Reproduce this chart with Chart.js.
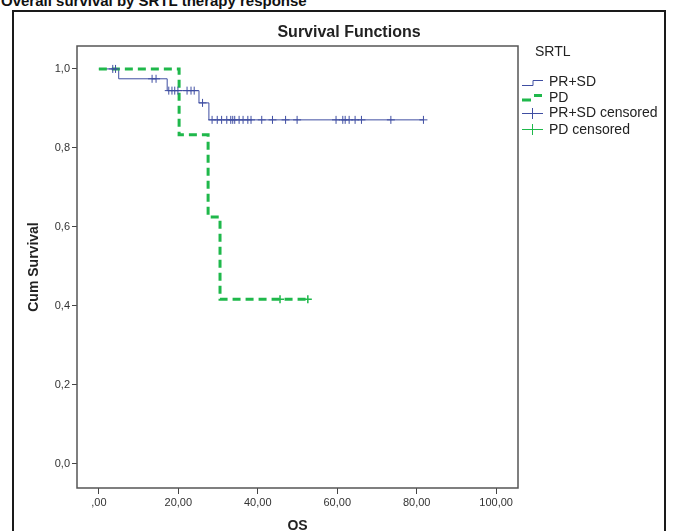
<!DOCTYPE html>
<html>
<head>
<meta charset="utf-8">
<script src="https://cdn.jsdelivr.net/npm/chart.js@4.4.1/dist/chart.umd.min.js"></script>
<style>
  html, body { margin: 0; padding: 0; width: 673px; height: 531px; overflow: hidden; background: #fff; }
  #heading { position: absolute; left: 1px; top: -8px; font: bold 15px "Liberation Sans Narrow", sans-serif; color: #111; white-space: nowrap; }
  #frame { position: absolute; left: 12px; top: 10px; width: 650px; height: 600px; border: 2px solid #1a1a1a; }
  #wrap { position: absolute; left: 0; top: 0; }
</style>
</head>
<body>
<div id="heading">Overall survival by SRTL therapy response</div>
<div id="frame"></div>
<div id="wrap"><canvas id="km" width="673" height="545"></canvas></div>
<script>
// survival steps
const prsdTimes = [0, 5.0, 17.2, 25.2, 27.7, 81.7];
const prsdSurv = [1.0, 0.975, 0.945, 0.914, 0.871, 0.871];
const pdTimes = [0, 20.2, 27.5, 30.5, 52.6];
const pdSurv = [1.0, 0.833, 0.625, 0.417, 0.417];
// censored cases (time only, y comes from the curve)
const prsdCensored = [3.5, 4.2, 13.4, 14.4, 17.6, 18.4, 19.1, 19.9, 22.2, 23.2, 24.0, 26.1,
  28.5, 29.8, 30.9, 32.2, 33.2, 33.7, 34.2, 35.3, 36.3, 37.5, 38.3, 41.0, 43.7, 47.0, 49.9,
  59.7, 61.4, 62.0, 63.0, 64.5, 66.1, 73.5, 81.7];
const pdCensored = [45.6, 52.6];

const xTicks = [0, 20, 40, 60, 80, 100];
const xTickLabels = [',00', '20,00', '40,00', '60,00', '80,00', '100,00'];
const yTicks = [0, 0.2, 0.4, 0.6, 0.8, 1.0];
const yTickLabels = ['0,0', '0,2', '0,4', '0,6', '0,8', '1,0'];
const legendLabels = ['PR+SD', 'PD', 'PR+SD censored', 'PD censored'];

const blue = '#3f4ea2';
const green = '#1fb84b';

function survAt(times, surv, t) {
    let s = surv[0];
    for (let i = 0; i < times.length; i++) {
        if (times[i] <= t) s = surv[i];
    }
    return s;
}
const toPts = (xs, ys) => xs.map((x, i) => ({x: x, y: ys[i]}));

// frame, title and SPSS style legend
const decor = {
    id: 'decor',
    afterDatasetsDraw(chart) {
        const ctx = chart.ctx;
        const a = chart.chartArea;
        ctx.save();
        ctx.strokeStyle = '#555';
        ctx.lineWidth = 1.5;
        ctx.strokeRect(a.left, a.top, a.right - a.left, a.bottom - a.top);
        ctx.restore();
    },
    afterDraw(chart) {
        const ctx = chart.ctx;
        ctx.save();
        ctx.fillStyle = '#222';
        ctx.font = 'bold 16px "Liberation Sans", Arial, sans-serif';
        ctx.textAlign = 'center';
        ctx.textBaseline = 'middle';
        ctx.fillText('Survival Functions', 349, 33);

        ctx.textAlign = 'left';
        ctx.font = '14px "Liberation Sans", Arial, sans-serif';
        ctx.fillText('SRTL', 535, 52);
        const ys = [82, 98, 113, 130];
        legendLabels.forEach((t, i) => ctx.fillText(t, 549, ys[i]));

        // PR+SD step icon
        ctx.strokeStyle = blue;
        ctx.lineWidth = 1;
        ctx.beginPath();
        ctx.moveTo(522, 85.5); ctx.lineTo(533, 85.5); ctx.lineTo(533, 80.5); ctx.lineTo(543, 80.5);
        ctx.stroke();
        // PD dashed icon
        ctx.strokeStyle = green;
        ctx.lineWidth = 3;
        ctx.beginPath();
        ctx.moveTo(522, 100); ctx.lineTo(531, 100);
        ctx.moveTo(534, 95.5); ctx.lineTo(542, 95.5);
        ctx.stroke();
        // censored crosses
        [[blue, 113], [green, 129]].forEach(([c, y]) => {
            ctx.strokeStyle = c;
            ctx.lineWidth = 1;
            ctx.beginPath();
            ctx.moveTo(522, y + 0.5); ctx.lineTo(543, y + 0.5);
            ctx.moveTo(532.5, y - 5); ctx.lineTo(532.5, y + 6);
            ctx.stroke();
        });
        ctx.restore();
    }
};

new Chart(document.getElementById('km'), {
    type: 'line',
    data: {
        datasets: [{
            label: 'PR+SD',
            data: toPts(prsdTimes, prsdSurv),
            stepped: 'before',
            borderColor: blue,
            borderWidth: 1,
            pointRadius: 0,
            order: 4
        },
        {
            label: 'PD',
            data: toPts(pdTimes, pdSurv),
            stepped: 'before',
            borderColor: green,
            borderWidth: 3,
            borderDash: [8, 5],
            pointRadius: 0,
            order: 3
        },
        {
            label: 'PR+SD censored',
            data: prsdCensored.map(t => ({x: t, y: survAt(prsdTimes, prsdSurv, t)})),
            showLine: false,
            pointStyle: 'cross',
            pointRadius: 4,
            pointBorderWidth: 1,
            borderColor: blue,
            order: 2
        },
        {
            label: 'PD censored',
            data: pdCensored.map(t => ({x: t, y: survAt(pdTimes, pdSurv, t)})),
            showLine: false,
            pointStyle: 'cross',
            pointRadius: 4,
            pointBorderWidth: 1.5,
            borderColor: green,
            order: 1
        }]
    },
    options: {
        responsive: false,
        animation: false,
        devicePixelRatio: 1,
        layout: {
            padding: {left: 26, right: 155, top: 46, bottom: 0}
        },
        plugins: {
            legend: {display: false},
            tooltip: {enabled: false}
        },
        scales: {
            x: {
                type: 'linear',
                min: -5.5,
                max: 105.5,
                afterBuildTicks: s => { s.ticks = xTicks.map(v => ({value: v})); },
                afterFit: s => { s.height = 57; },
                ticks: {
                    callback: (v, i) => xTickLabels[i],
                    font: {family: 'Liberation Sans', size: 11},
                    color: '#333',
                    padding: 2,
                    maxRotation: 0,
                    autoSkip: false
                },
                grid: {drawOnChartArea: false, tickLength: 6, color: '#444'},
                border: {display: false},
                title: {
                    display: true,
                    text: 'OS',
                    font: {family: 'Liberation Sans', size: 14, weight: 'bold'},
                    color: '#222',
                    padding: {top: 0, bottom: 10}
                }
            },
            y: {
                min: -0.061,
                max: 1.058,
                afterBuildTicks: s => { s.ticks = yTicks.map(v => ({value: v})); },
                afterFit: s => { s.width = 51; },
                ticks: {
                    callback: (v, i) => yTickLabels[i],
                    font: {family: 'Liberation Sans', size: 11},
                    color: '#333',
                    padding: 2
                },
                grid: {drawOnChartArea: false, tickLength: 5, color: '#444'},
                border: {display: false},
                title: {
                    display: true,
                    text: 'Cum Survival',
                    font: {family: 'Liberation Sans', size: 14, weight: 'bold'},
                    color: '#222',
                    padding: 0
                }
            }
        }
    },
    plugins: [decor]
});
</script>
</body>
</html>
